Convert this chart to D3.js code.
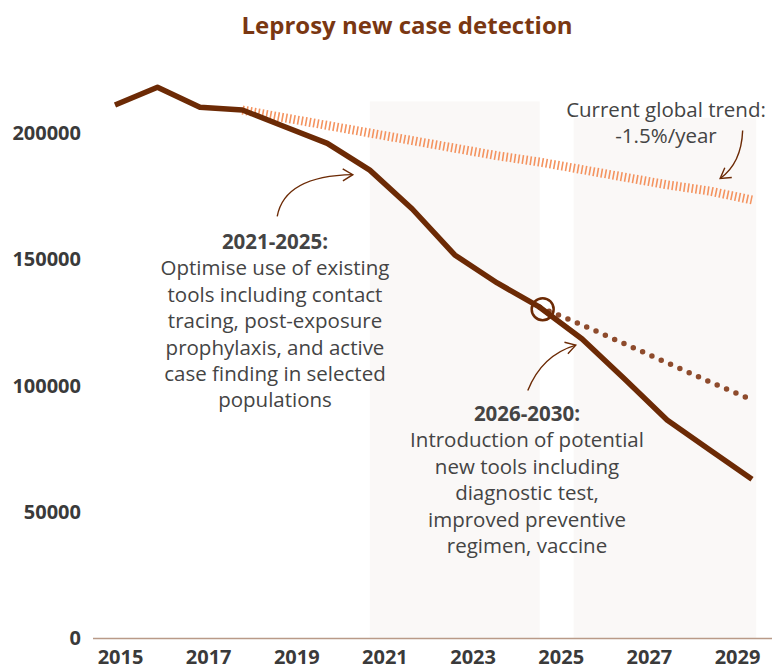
<!DOCTYPE html>
<html>
<head>
<meta charset="utf-8">
<script src="https://cdn.jsdelivr.net/npm/d3@7"></script>
<style>
  body { margin: 0; background: #fff; }
  svg { display: block; font-family: "Open Sans", sans-serif; }
</style>
</head>
<body>
<svg id="chart" width="772" height="672"></svg>
<script>
// Data
const years = [2015, 2016, 2017, 2018, 2019, 2020, 2021, 2022, 2023, 2024, 2025, 2026, 2027, 2028, 2029, 2030];
const detected = [211100, 218100, 210200, 209100, 202500, 195900, 185300, 169900, 151700, 140600, 131000, 118400, 102600, 86300, 74600, 62900];

const trendYears = [2018, 2019, 2020, 2021, 2022, 2023, 2024, 2025, 2026, 2027, 2028, 2029, 2030];
const trendValues = [209100, 206000, 203000, 200000, 197000, 194000, 191000, 188500, 185500, 182500, 179500, 177000, 173500];

const projYears = [2025, 2026, 2027, 2028, 2029, 2030];
const projValues = [131000, 124000, 116500, 109000, 101500, 94300];

const yTicks = [0, 50000, 100000, 150000, 200000];
const xTickLabels = [2015, 2017, 2019, 2021, 2023, 2025, 2027, 2029];

// shaded periods [start, end, top value]
const periods = [[2021, 2025, 212500], [2025.8, 2030.1, 206000]];

const svg = d3.select("#chart");
const width = 772, height = 672;

const x = d3.scaleLinear().domain([2015, 2030]).range([115, 752]);
const y = d3.scaleLinear().domain([0, 200000]).range([638, 133]);
// tick labels sit on their own spacing in the original
const xLabel = d3.scaleLinear().domain([2015, 2029]).range([120, 737]);

// Title
svg.append("text")
   .attr("x", 407).attr("y", 34)
   .attr("text-anchor", "middle")
   .attr("font-size", 24).attr("font-weight", 700)
   .attr("fill", "#7a3712")
   .text("Leprosy new case detection");

// Shaded periods
svg.append("g").selectAll("rect")
   .data(periods)
   .join("rect")
   .attr("x", d => x(d[0]))
   .attr("width", d => x(d[1]) - x(d[0]))
   .attr("y", d => y(d[2]))
   .attr("height", d => y(0) - y(d[2]))
   .attr("fill", "#faf8f7");

// Gaps in gridlines behind the text blocks
const defs = svg.append("defs");
const mask = defs.append("mask").attr("id", "gridGaps");
mask.append("rect").attr("width", width).attr("height", height).attr("fill", "#fff");
[[142, 232, 268, 185], [406, 402, 241, 160], [595, 95, 177, 60]].forEach(r => {
  mask.append("rect").attr("x", r[0]).attr("y", r[1]).attr("width", r[2]).attr("height", r[3]).attr("fill", "#000");
});

// Y axis gridlines + labels
const yAxis = svg.append("g")
   .attr("transform", "translate(93,0)")
   .call(d3.axisRight(y).tickValues(yTicks).tickSize(width - 93).tickFormat(""));
yAxis.select(".domain").remove();
yAxis.selectAll(".tick line")
   .attr("stroke", d => d === 0 ? "#b99a88" : "#cdb4a5")
   .attr("stroke-width", d => d === 0 ? 1.5 : 1)
   .attr("mask", d => d === 0 ? null : "url(#gridGaps)");

svg.append("g").selectAll("text")
   .data(yTicks)
   .join("text")
   .attr("x", 81)
   .attr("y", d => y(d) + 7)
   .attr("text-anchor", "end")
   .attr("font-size", 20).attr("font-weight", 700)
   .attr("fill", "#3a3a3a")
   .text(d => d);

// X labels
const xAxis = svg.append("g")
   .attr("transform", "translate(0,647)")
   .call(d3.axisBottom(xLabel).tickValues(xTickLabels).tickSize(0).tickFormat(d3.format("d")));
xAxis.select(".domain").remove();
xAxis.selectAll("text")
   .attr("font-family", "'Open Sans', sans-serif")
   .attr("font-size", 20).attr("font-weight", 700)
   .attr("fill", "#3a3a3a");

// Lines
const line = d3.line().x(d => x(d[0])).y(d => y(d[1]));

svg.append("path")
   .datum(d3.zip(trendYears, trendValues))
   .attr("fill", "none")
   .attr("stroke", "#f4935f")
   .attr("stroke-width", 9)
   .attr("stroke-dasharray", "1.6 2.4")
   .attr("d", line);

svg.append("path")
   .datum(d3.zip(projYears, projValues))
   .attr("fill", "none")
   .attr("stroke", "#8e4b2c")
   .attr("stroke-width", 5.5)
   .attr("stroke-linecap", "round")
   .attr("stroke-dasharray", "0 10.2")
   .attr("d", line);

svg.append("path")
   .datum(d3.zip(years, detected))
   .attr("fill", "none")
   .attr("stroke", "#6c2a05")
   .attr("stroke-width", 5.5)
   .attr("stroke-linejoin", "round")
   .attr("d", line);

// Circle where the projection splits
svg.append("circle")
   .attr("cx", x(projYears[0]) + 3)
   .attr("cy", y(projValues[0]) + 2)
   .attr("r", 11)
   .attr("fill", "none")
   .attr("stroke", "#6c2a05")
   .attr("stroke-width", 2.5);

// Arrows
defs.append("marker")
   .attr("id", "arrow")
   .attr("viewBox", "-12 -8 14 16")
   .attr("markerWidth", 14).attr("markerHeight", 16)
   .attr("markerUnits", "userSpaceOnUse")
   .attr("refX", 0).attr("refY", 0)
   .attr("orient", "auto")
   .append("path")
   .attr("d", "M-10,-6 L0,0 L-10,6")
   .attr("fill", "none")
   .attr("stroke", "#6c2a05")
   .attr("stroke-width", 1.4);

const arrows = [
  // [startYear, startVal, ctrlYear, ctrlVal, endYear, endVal]
  [2018.82, 167000, 2019.0, 183000, 2020.6, 183500],
  [2024.72, 98000, 2025.05, 112000, 2025.85, 116000],
  [2029.78, 201000, 2029.75, 188000, 2029.25, 182000]
];
svg.append("g").selectAll("path")
   .data(arrows)
   .join("path")
   .attr("d", d => `M${x(d[0])},${y(d[1])} Q${x(d[2])},${y(d[3])} ${x(d[4])},${y(d[5])}`)
   .attr("fill", "none")
   .attr("stroke", "#6c2a05")
   .attr("stroke-width", 1.4)
   .attr("marker-end", "url(#arrow)");

// Annotation texts
function block(cx, y0, lines, boldFirst) {
  const t = svg.append("text")
     .attr("text-anchor", "middle")
     .attr("font-size", 20.5)
     .attr("fill", "#444");
  lines.forEach((s, i) => {
    t.append("tspan")
     .attr("x", cx)
     .attr("y", y0 + i * 26.4)
     .attr("font-weight", boldFirst && i === 0 ? 700 : 400)
     .text(s);
  });
}

block(275, 249, ["2021-2025:", "Optimise use of existing", "tools including contact",
  "tracing, post-exposure", "prophylaxis, and active", "case finding in selected", "populations"], true);
block(527, 421, ["2026-2030:", "Introduction of potential", "new tools including",
  "diagnostic test,", "improved preventive", "regimen, vaccine"], true);
block(666, 117, ["Current global trend:", "-1.5%/year"], false);
</script>
</body>
</html>
